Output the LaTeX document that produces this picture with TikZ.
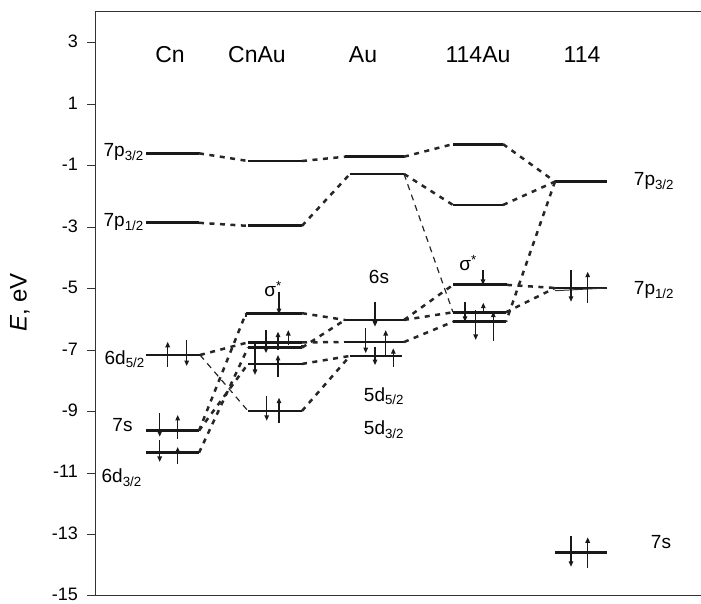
\documentclass[tikz,border=0pt]{standalone}
\usepackage{fontspec}
\setmainfont{Liberation Sans}
\usetikzlibrary{arrows.meta}
\tikzset{
  lvl/.style={line width=2.8pt, black!90},
  conn/.style={line width=2.5pt, dash pattern=on 5pt off 5.5pt, black!85},
  connthin/.style={line width=1.2pt, dash pattern=on 6pt off 5pt, black!85},
  spin/.style={line width=1.3pt, black!90, -{Triangle[length=5.5pt,width=4.5pt]}},
  frameline/.style={line width=1pt, black!80},
  hdr/.style={font=\fontsize{23}{26}\selectfont, inner sep=0pt},
  orb/.style={font=\fontsize{19}{22}\selectfont, inner sep=0pt},
  ticklbl/.style={font=\fontsize{18}{20}\selectfont, inner sep=0pt, anchor=east},
}
\begin{document}
\begin{tikzpicture}[x=1pt, y=30.74pt]
  \useasboundingbox (0,4.388) rectangle (701,-15.26);
  % frame and energy scale
  \draw[frameline] (701,4.03) -- (95,4.03) -- (95,-15) -- (701,-15);
  \foreach \e in {3,1,...,-15} {
    \draw[frameline] (87,\e) -- (95,\e);
    \node[ticklbl] (t\e) at (78,\e+0.04) {\e};
  }
  \node[rotate=90, font=\fontsize{24}{26}\selectfont] (elbl) at (20,-5.45) {\textit{E}, eV};
  % column headers
  \foreach \nm/\x/\t in {cn/170/Cn, ca/257/CnAu, au/363/Au, fa/478/114Au, fl/582/114}
    \node[hdr] (h\nm) at (\x,2.6) {\t};
  % levels
  \foreach \nm/\xa/\xb/\e in {cnP3/146/199/-0.60, cnP1/146/199/-2.86, cnD5/146/200/-7.16,
      cnS/146/199/-9.62, cnD3/146/199/-10.34,
      caT/248/302/-0.85, caP/248/302/-2.96, caX/246/302/-5.80, caA/248/302/-6.75,
      caB/248/302/-6.92, caC/248/302/-7.45, caD/248/302/-8.98,
      auT/345/404/-0.71, auP/350/404/-1.27, auS/345/404/-6.02, auD5/344/404/-6.74,
      auD3/350/402/-7.19,
      faT/453/503/-0.30, faP/453/503/-2.28, faX/453/507/-4.88, faA/453/506/-5.77,
      faB/453/506/-6.08,
      flP3/555/607/-1.52, flP1/555/607/-4.98, flS/555/607/-13.59} {
    \coordinate (\nm-l) at (\xa,\e);
    \coordinate (\nm-r) at (\xb,\e);
    \draw[lvl] (\nm-l) -- (\nm-r);
  }
  \draw[line width=1pt, black!80] (flP1-l) ++(0,-0.09) -- (flP1-r);
  \draw[line width=1.2pt, black!85] (caX-l) -- ++(0,-0.12);
  \draw[line width=1.2pt, black!85] (caB-r) -- ++(0,0.1);
  % correlation lines
  \foreach \a/\b in {cnP3-r/caT-l, cnP1-r/caP-l, caT-r/auT-l, caP-r/auP-l,
      auT-r/faT-l, auP-r/faP-l, faT-r/flP3-l, faP-r/flP3-l, flP3-l/faB-r,
      faX-r/flP1-l, faA-r/flP1-l, auS-r/faX-l, auS-r/faA-l, auD5-r/faB-l,
      cnD5-r/caA-l, cnS-r/caX-l, cnS-r/caC-l, cnD3-r/caB-l,
      caX-r/auS-l, caA-r/auD5-l, caB-r/auS-l, caC-r/auD3-l, caD-r/auD3-l}
    \draw[conn] (\a) -- (\b);
  \foreach \a/\b in {auP-r/faA-l, cnD5-r/caD-l}
    \draw[connthin] (\a) -- (\b);
  % electrons
  \foreach \x/\ea/\eb in {167.7/-7.54/-6.73, 186.7/-6.67/-7.52, 159.7/-9.05/-9.82,
      177.7/-9.89/-9.11, 159.7/-9.92/-10.64, 177.7/-10.71/-10.15,
      279/-5.10/-5.83, 266/-6.35/-7.10, 278/-6.99/-6.40, 288.3/-6.84/-6.35,
      255/-6.73/-7.81, 278/-7.87/-7.16, 266.7/-8.49/-9.30, 279/-9.36/-8.55,
      375/-5.43/-6.24, 365.7/-6.29/-7.10, 385.7/-7.16/-6.35, 375/-6.89/-7.49,
      393.3/-7.54/-6.94,
      483/-4.39/-4.88, 465/-5.43/-6.08, 483.3/-5.80/-5.46, 475.7/-5.70/-6.67,
      493.3/-6.70/-5.75,
      571/-4.39/-5.43, 587.7/-5.46/-4.45, 571/-13.04/-14.05, 587.7/-14.08/-13.09}
    \draw[spin] (\x,\ea) -- (\x,\eb);
  % orbital labels
  \node[orb, anchor=east] (lcnP3) at (144,-0.55) {7p\textsubscript{3/2}};
  \node[orb, anchor=east] (lcnP1) at (144,-2.83) {7p\textsubscript{1/2}};
  \node[orb, anchor=east] (lcnD5) at (145,-7.30) {6d\textsubscript{5/2}};
  \node[orb] (lcnS) at (122.5,-9.44) {7s};
  \node[orb] (lcnD3) at (121.7,-11.16) {6d\textsubscript{3/2}};
  \node[orb] (lcaX) at (273,-5.02) {σ\textsuperscript{*}};
  \node[orb] (lauS) at (379,-4.63) {6s};
  \node[orb] (lauD5) at (384,-8.50) {5d\textsubscript{5/2}};
  \node[orb] (lauD3) at (384,-9.60) {5d\textsubscript{3/2}};
  \node[orb] (lfaX) at (468,-4.17) {σ\textsuperscript{*}};
  \node[orb] (lflP3) at (654,-1.50) {7p\textsubscript{3/2}};
  \node[orb] (lflP1) at (654,-5.05) {7p\textsubscript{1/2}};
  \node[orb] (lflS) at (661,-13.24) {7s};
\end{tikzpicture}
\end{document}
